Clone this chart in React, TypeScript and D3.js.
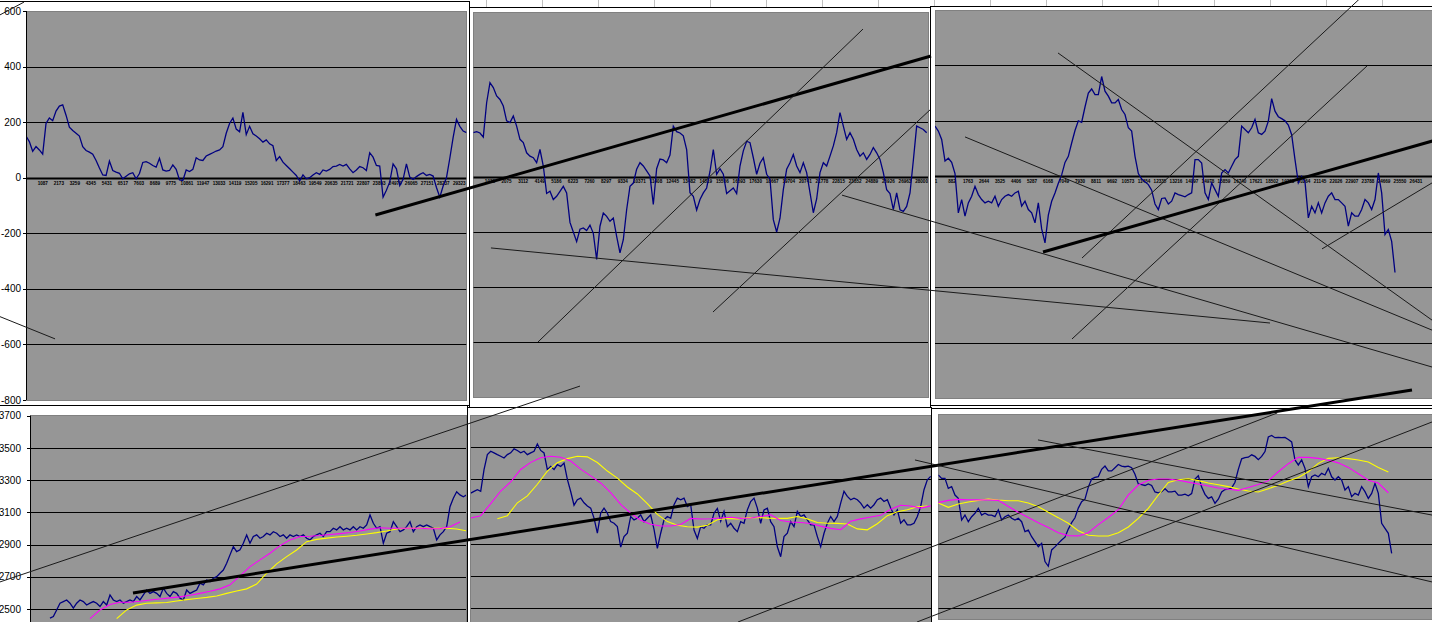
import React from "react";
import * as d3 from "d3";

// ---------- tick labels ----------
const topYTicks = [600, 400, 200, 0, -200, -400, -600, -800];
const bottomYTicks = [3700, 3500, 3300, 3100, 2900, 2700, 2500];

const p1CatLabels = ["1087","2173","3259","4345","5431","6517","7603","8689","9775","10861","11947","13033","14119","15205","16291","17377","18463","19549","20635","21721","22807","23893","24979","26065","27151","28237","29323"];
const p2CatLabels = ["1038","2075","3112","4149","5186","6223","7260","8297","9334","10371","11408","12445","13482","14519","15556","16593","17630","18667","19704","20741","21778","22815","23852","24889","25926","26963","28000"];
const p3CatLabels = ["1","882","1763","2644","3525","4406","5287","6168","7049","7930","8811","9692","10573","11454","12335","13216","14097","14978","15859","16740","17621","18502","19383","20264","21145","22026","22907","23788","24669","25550","26431"];

// ---------- top row: oscillator series ----------
const p1Osc = [150,130,95,112,100,85,195,215,205,240,258,262,225,182,170,160,150,112,98,92,85,62,35,10,8,60,26,20,16,-4,5,14,18,-4,15,55,58,52,44,38,70,28,24,26,46,30,-8,-10,28,22,30,72,64,62,78,84,90,96,100,112,160,195,215,175,165,235,155,185,158,150,140,128,136,122,115,62,76,56,44,32,20,8,-12,10,-4,0,10,18,12,28,24,30,40,42,48,42,48,32,18,28,40,36,26,90,74,44,42,-70,-45,-15,50,32,-28,-6,50,2,-6,4,12,18,8,12,6,-35,-70,-30,0,70,145,210,185,168,162];
const p2Osc = [161,165,160,145,270,343,325,295,282,258,204,198,222,185,137,125,88,76,70,52,100,40,-60,-52,-82,-70,-52,-34,-58,-165,-200,-235,-190,-185,-195,-175,-205,-300,-179,-131,-143,-161,-149,-216,-276,-228,-119,-34,-22,28,52,40,22,4,-100,30,65,62,52,80,185,165,160,150,100,-57,-70,-120,-82,-58,-40,20,100,10,30,10,-60,-50,-40,-60,40,95,130,125,70,10,50,70,10,-8,-155,-200,-150,-46,28,52,82,40,16,52,16,-57,-130,-80,16,52,40,76,113,161,234,185,137,161,137,100,76,88,64,82,107,88,64,16,-46,-60,-119,-58,-119,-125,-107,-58,60,185,179,173,161];
const p3Osc = [181,163,133,55,65,50,10,-132,-84,-144,-96,-72,-36,-66,-84,-96,-90,-96,-72,-108,-84,-72,-66,-72,-60,-54,-108,-90,-120,-132,-168,-96,-190,-240,-140,-90,-60,-25,5,50,72,120,165,200,195,250,300,315,295,295,360,307,289,265,265,277,241,223,175,163,72,10,-10,-20,-30,-50,-100,-120,-80,-78,-100,-90,-60,-66,-70,-74,-66,-60,60,60,48,-60,-84,-24,-48,-72,12,24,12,36,60,72,181,169,157,175,205,157,151,163,199,280,235,215,208,200,185,150,60,-24,0,-20,-150,-108,-132,-96,-132,-96,-72,-60,-84,-84,-96,-108,-180,-132,-144,-144,-120,-84,-96,-120,-84,12,-60,-210,-192,-235,-347];

// ---------- bottom row: price and two moving averages ----------
const p4Price = [2443,2453,2494,2536,2546,2556,2536,2505,2536,2556,2546,2525,2536,2546,2536,2515,2546,2525,2587,2556,2546,2556,2536,2546,2556,2546,2577,2556,2587,2618,2597,2608,2597,2577,2629,2597,2577,2608,2597,2567,2556,2618,2597,2608,2618,2660,2650,2680,2670,2691,2701,2722,2742,2784,2836,2887,2856,2867,2908,2960,2908,2950,2960,2939,2950,2970,2960,2980,2970,2950,2960,2939,2960,2950,2960,2950,2960,2939,2929,2950,2960,2970,2950,2980,2980,3001,2991,3011,2991,3001,2991,3011,2991,3011,3001,3022,3084,3032,3001,3011,2908,2970,2980,3042,3011,2980,2991,3011,3042,2980,3011,3022,3011,3022,3011,3001,2929,2960,2980,3011,3135,3187,3228,3208,3197,3208];
const p4MaFast = [2440,2494,2528,2542,2542,2548,2556,2562,2569,2575,2585,2597,2610,2625,2650,2706,2763,2805,2846,2893,2929,2950,2952,2956,2962,2968,2975,2984,2996,3004,3001,3001,3001,3001,2998,2999,3010,3040];
const p4MaSlow = [2440,2494,2524,2536,2538,2540,2550,2558,2565,2572,2581,2597,2612,2625,2655,2722,2780,2825,2866,2918,2932,2940,2947,2952,2958,2966,2974,2984,2997,3001,3001,3001,3001,3001,2997,2985];

const p5Price = [3215,3226,3236,3226,3361,3454,3475,3465,3454,3444,3433,3454,3465,3490,3480,3465,3475,3454,3465,3475,3520,3480,3465,3361,3381,3361,3392,3381,3402,3300,3225,3140,3174,3184,3155,3135,3122,3060,2966,3090,3122,3090,3038,3028,3007,2880,2945,2966,3070,3049,3059,3080,3038,3059,3080,2990,2872,2966,3049,3070,3059,3143,3184,3174,3184,3132,3143,2986,2934,3007,2997,3018,3018,3090,3120,3040,3101,3007,3028,2997,2976,3038,3028,3111,3163,3184,3122,3028,3111,3122,3038,3007,2882,2820,2945,2966,3038,3007,3101,3070,3080,3049,3018,3018,2945,2882,2966,3028,3070,3038,3070,3153,3226,3195,3174,3184,3174,3153,3122,3143,3122,3143,3174,3184,3163,3174,3122,3080,3111,3028,3049,3018,3018,3028,3070,3132,3236,3298,3319];
const p5MaFast = [3060,3075,3150,3228,3285,3362,3406,3435,3444,3438,3414,3364,3322,3278,3218,3145,3090,3047,3022,3011,3011,3020,3058,3054,3056,3061,3065,3058,3061,3070,3080,3045,3036,3033,3026,3010,2996,2988,3040,3055,3067,3077,3115,3140,3135,3122,3136];
const p5MaSlow = [3056,3075,3155,3198,3270,3352,3404,3429,3444,3440,3405,3352,3308,3253,3210,3150,3083,3038,3015,3006,3004,3015,3050,3057,3055,3062,3064,3060,3058,3058,3070,3055,3033,3028,3027,3023,2993,2987,3025,3075,3099,3112,3130,3135];

const p6Price = [3325,3304,3304,3242,3253,3201,3180,3046,3077,3036,3067,3088,3119,3077,3088,3077,3077,3067,3108,3046,3067,3077,3057,3046,3057,3036,2974,2984,2943,2912,2881,2902,2789,2760,2861,2880,2902,2923,2940,2990,3030,3060,3120,3160,3175,3250,3300,3310,3315,3360,3380,3350,3350,3370,3390,3380,3376,3380,3370,3330,3270,3265,3260,3270,3260,3220,3215,3222,3240,3220,3220,3225,3200,3200,3206,3196,3210,3300,3320,3250,3205,3180,3190,3150,3175,3220,3235,3238,3245,3280,3360,3425,3432,3435,3450,3440,3420,3440,3470,3560,3570,3556,3558,3556,3558,3545,3530,3418,3387,3418,3366,3253,3314,3325,3314,3335,3325,3366,3314,3294,3314,3294,3232,3253,3191,3211,3201,3253,3222,3180,3211,3273,3211,3026,2995,2964,2840];
const p6MaFast = [3154,3168,3174,3172,3171,3170,3168,3130,3094,3062,3030,3000,2968,2950,2948,2968,3018,3062,3110,3202,3263,3292,3300,3300,3292,3281,3269,3257,3244,3237,3230,3247,3266,3290,3345,3395,3434,3434,3428,3416,3400,3372,3333,3292,3275,3215];
const p6MaSlow = [3152,3125,3145,3158,3168,3176,3170,3166,3166,3152,3129,3094,3061,3026,2980,2952,2947,2947,2968,3003,3057,3119,3201,3279,3296,3302,3290,3275,3265,3253,3238,3226,3220,3240,3261,3288,3310,3345,3397,3428,3432,3426,3418,3405,3372,3343];

// ---------- hand-drawn trend lines: [panel, cat1, value1, cat2, value2, heavy] ----------
const trendLines: [number, number, number, number, number, number][] = [
  [0, -7.8, 586, -0.6, 632, 0],
  [0, -7.8, -500, 8.7, -580, 0],
  [0, 104.7, -134, 271.2, 438, 1],
  [1, 19.4, -600, 116.9, 538, 0],
  [1, 71.9, -491, 137, 244, 0],
  [1, 110.6, -66, 287.6, -691, 0],
  [1, 5.3, -258, 239, -531, 0],
  [3, -9, 2668, 165, 3884, 0],
  [2, 36.9, 445, 149.1, -519, 0],
  [2, 9, 142, 149.1, -555, 0],
  [2, 130.2, 672, 44.1, -295, 0],
  [2, 129.6, 398, 41.1, -587, 0],
  [2, 32.4, -273, 151.5, 135, 1],
  [2, 116.1, -262, 149.1, -24, 0],
  [3, 30.9, 2599, 414.6, 3860, 1],
  [5, -7, 3418, 148.1, 2663, 0],
  [5, 29.9, 3542, 148.1, 3077, 0],
  [5, -60.1, 2415, 101.7, 3709, 0],
  [5, -6.4, 2415, 148.1, 3653, 0],
];

const NAVY = "#000080";
const MAGENTA = "#FF00FF";
const YELLOW = "#FFFF00";
const PLOT_GRAY = "#969696";

type Series = { values: number[]; start: number; step: number; color: string };
type Panel = {
  frame: [number, number, number, number];
  plot: [number, number, number, number];
  xDomain: [number, number];
  yDomain: [number, number];
  yTicks: number[];
  zero: boolean;
  axis: boolean;
  cat?: { labels: string[]; start: number; step: number; dy: number };
  series: Series[];
};

const panels: Panel[] = [
  {
    frame: [-1, 1, 470, 404], plot: [26, 11, 466.5, 400], xDomain: [0, 132], yDomain: [-800, 600],
    yTicks: topYTicks, zero: true, axis: true,
    cat: { labels: p1CatLabels, start: 5.04, step: 4.8, dy: 7 },
    series: [{ values: p1Osc, start: 0, step: 1, color: NAVY }],
  },
  {
    frame: [469.5, 7, 461, 400], plot: [473.3, 12, 928, 397], xDomain: [0, 136.4], yDomain: [-800, 600],
    yTicks: topYTicks, zero: true, axis: false,
    cat: { labels: p2CatLabels, start: 5.0, step: 4.98, dy: 6 },
    series: [{ values: p2Osc, start: 0, step: 1, color: NAVY }],
  },
  {
    frame: [930.5, 6, 520, 399], plot: [935, 10, 1440, 398], xDomain: [0, 151.5], yDomain: [-800, 600],
    yTicks: topYTicks, zero: true, axis: false,
    cat: { labels: p3CatLabels, start: 0.3, step: 4.8, dy: 6.5 },
    series: [{ values: p3Osc, start: 0, step: 1, color: NAVY }],
  },
  {
    frame: [-1, 405, 468, 230], plot: [30, 415.7, 466, 641.2], xDomain: [0, 130.8], yDomain: [2300, 3700],
    yTicks: bottomYTicks, zero: false, axis: true,
    series: [
      { values: p4Price, start: 6, step: 1, color: NAVY },
      { values: p4MaSlow, start: 26, step: 3, color: YELLOW },
      { values: p4MaFast, start: 18, step: 3, color: MAGENTA },
    ],
  },
  {
    frame: [467, 407, 464, 230], plot: [470.7, 415, 934, 640.5], xDomain: [0, 139], yDomain: [2300, 3700],
    yTicks: bottomYTicks, zero: false, axis: false,
    series: [
      { values: p5Price, start: 0, step: 1, color: NAVY },
      { values: p5MaSlow, start: 8, step: 3, color: YELLOW },
      { values: p5MaFast, start: 0, step: 3, color: MAGENTA },
    ],
  },
  {
    frame: [931, 408, 520, 230], plot: [938.3, 414.4, 1440, 640.6], xDomain: [0, 150.5], yDomain: [2300, 3700],
    yTicks: bottomYTicks, zero: false, axis: false,
    series: [
      { values: p6Price, start: 0, step: 1, color: NAVY },
      { values: p6MaSlow, start: 0, step: 3, color: YELLOW },
      { values: p6MaFast, start: 0, step: 3, color: MAGENTA },
    ],
  },
];

const plotBottomClip = [400, 397, 398, 622, 622, 619.5];

function scalesFor(p: Panel) {
  const [l, t, r, b] = p.plot;
  const x = d3.scaleLinear().domain(p.xDomain).range([l, r]);
  const y = d3.scaleLinear().domain(p.yDomain).range([b, t]);
  return { x, y };
}

function PanelView({ p, idx }: { p: Panel; idx: number }) {
  const { x, y } = scalesFor(p);
  const [l, t, r] = p.plot;
  const b = plotBottomClip[idx];
  const clipId = `clip-${idx}`;
  const [lo, hi] = p.yDomain;
  const inner = p.yTicks.filter((v) => v > lo && v < hi);
  return (
    <g>
      <rect x={p.frame[0]} y={p.frame[1]} width={p.frame[2]} height={p.frame[3]} fill="#fff" stroke="#000" strokeWidth={1} shapeRendering="crispEdges" />
      <defs>
        <clipPath id={clipId}>
          <rect x={l} y={t} width={r - l} height={b - t} />
        </clipPath>
      </defs>
      <rect x={l} y={t} width={r - l} height={b - t} fill={PLOT_GRAY} stroke="#808080" strokeWidth={1} shapeRendering="crispEdges" />
      <g clipPath={`url(#${clipId})`}>
        {inner.map((v) => (
          <line key={v} x1={l} x2={r} y1={Math.round(y(v)) + 0.5} y2={Math.round(y(v)) + 0.5}
            stroke="#000" strokeWidth={p.zero && v === 0 ? 2.2 : 1} />
        ))}
        {p.cat && p.cat.labels.map((lab, k) => (
          <text key={lab + k} x={x(p.cat!.start + k * p.cat!.step)} y={y(0) + p.cat!.dy}
            fontSize={4.6} fontWeight="bold" textAnchor="middle" fill="#000">{lab}</text>
        ))}
        {p.series.map((s, si) => {
          const gen = d3.line<number>()
            .x((_, i) => x(s.start + i * s.step))
            .y((d) => y(d));
          return <path key={si} d={gen(s.values) || ""} fill="none" stroke={s.color}
            strokeWidth={s.color === NAVY ? 1.3 : 1.1} strokeLinejoin="miter" />;
        })}
      </g>
      {p.axis && (
        <g>
          <line x1={l + 0.5} x2={l + 0.5} y1={t} y2={b} stroke="#000" strokeWidth={1} />
          {p.yTicks.map((v) => (
            <g key={v}>
              <line x1={l - 3} x2={l} y1={Math.round(y(v)) + 0.5} y2={Math.round(y(v)) + 0.5} stroke="#000" strokeWidth={1} />
              <text x={21} y={y(v)} dy="0.36em" fontSize={10} textAnchor="end" fill="#000">{v}</text>
            </g>
          ))}
        </g>
      )}
    </g>
  );
}

export default function App() {
  const cellLines = d3.range(486, 1432, 56);
  const all = panels.map(scalesFor);
  return (
    <svg width={1432} height={622} viewBox="0 0 1432 622"
      style={{ position: "absolute", left: 0, top: 0, display: "block", background: "#fff" }}
      fontFamily="'Liberation Sans', Arial, Helvetica, sans-serif">
      <rect x={0} y={0} width={1432} height={622} fill="#fff" />
      {cellLines.map((cx) => (
        <line key={cx} x1={cx + 0.5} x2={cx + 0.5} y1={0} y2={8} stroke="#c0c0c0" strokeWidth={1} />
      ))}
      {panels.map((p, i) => <PanelView key={i} p={p} idx={i} />)}
      {trendLines.map(([pi, c1, v1, c2, v2, heavy], k) => {
        const s = all[pi];
        return (
          <line key={k} x1={s.x(c1)} y1={s.y(v1)} x2={s.x(c2)} y2={s.y(v2)}
            stroke={heavy ? "#000" : "#1a1a1a"} strokeWidth={heavy ? 3 : 1} />
        );
      })}
    </svg>
  );
}
